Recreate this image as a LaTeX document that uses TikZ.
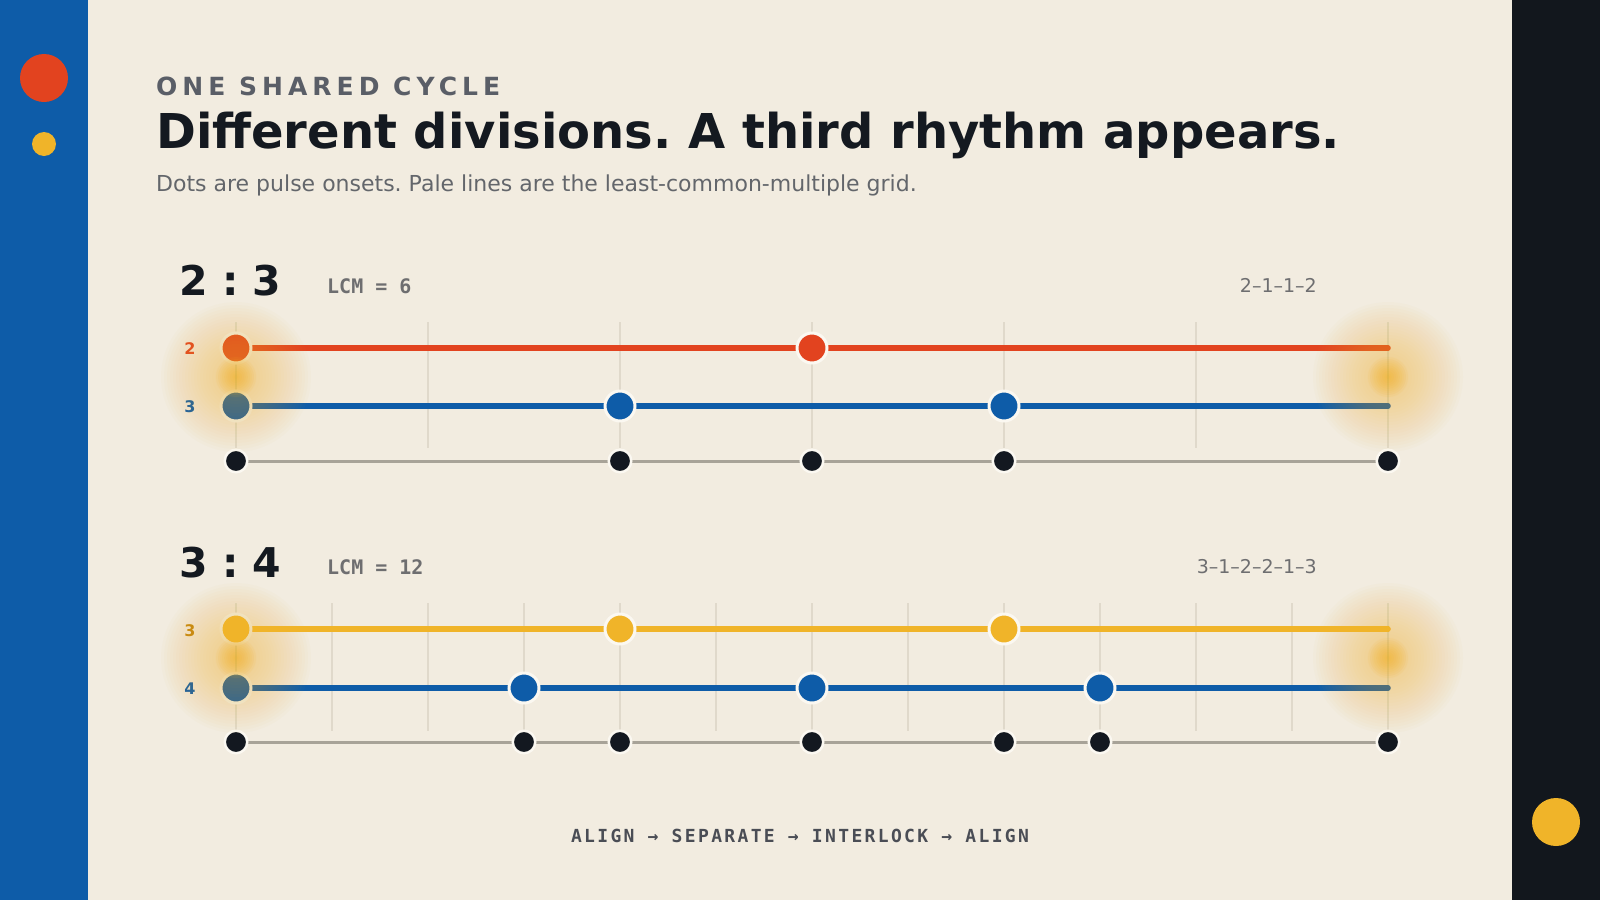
\documentclass[tikz,border=0pt]{standalone}
\usepackage{fontspec}
\setmainfont{DejaVu Sans}
\setmonofont{DejaVu Sans Mono}
\newfontfamily\kickerfont[LetterSpace=20]{DejaVu Sans}
\newfontfamily\footfont[LetterSpace=13]{DejaVu Sans Mono}
\frenchspacing

\definecolor{paper}{HTML}{F2ECE0}
\definecolor{barblue}{HTML}{0E5CA8}
\definecolor{barnight}{HTML}{12171D}
\definecolor{pulsered}{HTML}{E2431F}
\definecolor{pulseblue}{HTML}{0E5CA8}
\definecolor{pulseyellow}{HTML}{F0B429}
\definecolor{onsetblack}{HTML}{131820}
\definecolor{ringwhite}{HTML}{FBF8F1}
\definecolor{gridpale}{HTML}{E0D9CB}
\definecolor{railgray}{HTML}{A8A398}
\definecolor{inkdark}{HTML}{141920}
\definecolor{inkgray}{HTML}{5A5E67}
\definecolor{subgray}{HTML}{63666B}
\definecolor{lcmgray}{HTML}{6E6E70}
\definecolor{amber}{HTML}{C98A12}
\definecolor{footgray}{HTML}{4A4D55}

% soft yellow glow where the cycle closes
\newcommand{\glowat}[1]{%
  \foreach \r in {3,6,...,75} \fill[pulseyellow,fill opacity=0.022] (#1) circle (\r pt);
  \foreach \r in {2,4,...,20} \fill[pulseyellow,fill opacity=0.08] (#1) circle (\r pt);}

\begin{document}
\begin{tikzpicture}[x=1pt,y=-1pt]
        \tikzstyle{pulse}=[circle,draw=ringwhite,line width=3pt,minimum size=30pt,inner sep=0pt]
        \tikzstyle{onset}=[circle,fill=onsetblack,draw=ringwhite,line width=2.5pt,minimum size=22.5pt,inner sep=0pt]
        \tikzstyle{voice}=[line width=5.5pt,line cap=round]
        \tikzstyle{rail}=[railgray,line width=3pt]
        \tikzstyle{grid}=[gridpale,line width=1.5pt]
        \tikzstyle{ratio}=[anchor=base west,inner sep=0pt,text=inkdark,font=\fontsize{41}{41}\selectfont\bfseries]
        \tikzstyle{lcm}=[anchor=base west,inner sep=0pt,text=lcmgray,font=\fontsize{20}{20}\selectfont\ttfamily\bfseries]
        \tikzstyle{ioi}=[anchor=base east,inner sep=0pt,text=lcmgray,font=\fontsize{19}{19}\selectfont]
        \tikzstyle{voicelabel}=[inner sep=0pt,font=\fontsize{16}{16}\selectfont\bfseries]

        \useasboundingbox (0,0) rectangle (1600,900);
        \fill[paper] (0,0) rectangle (1600,900);
        \fill[barblue] (0,0) rectangle (88,900);
        \fill[barnight] (1512,0) rectangle (1600,900);
        \fill[pulsered] (44,78) circle (24pt);
        \fill[pulseyellow] (44,144) circle (12pt);
        \fill[pulseyellow] (1556,822) circle (24pt);

        % heading
        \node[anchor=base west,inner sep=0pt,text=inkgray,font=\fontsize{25}{25}\selectfont\kickerfont\bfseries] (kicker) at (156,95) {ONE SHARED CYCLE};
        \node[anchor=base west,inner sep=0pt,text=inkdark,font=\fontsize{48}{48}\selectfont\bfseries] (title) at (156,148) {Different divisions. A third rhythm appears.};
        \node[anchor=base west,inner sep=0pt,text=subgray,font=\fontsize{22}{22}\selectfont] (sub) at (156,191) {Dots are pulse onsets. Pale lines are the least-common-multiple grid.};

        % 2 : 3
        \begin{scope}
         \node[ratio] (ratio1) at (179,295) {2 : 3};
         \node[lcm] (lcm1) at (327,293) {LCM = 6};
         \node[ioi] (ioi1) at (1317,292) {2–1–1–2};
         \node[voicelabel,text=pulsered] (lab1a) at (190,349) {2};
         \node[voicelabel,text=pulseblue] (lab1b) at (190,407) {3};
         \foreach \k in {0,...,6}
           \draw[grid] (236+\k*192,322) -- (236+\k*192,448);
         \coordinate (a1s) at (236,348); \coordinate (a1e) at (1388,348);
         \coordinate (b1s) at (236,406); \coordinate (b1e) at (1388,406);
         \coordinate (c1s) at (236,461); \coordinate (c1e) at (1388,461);
         \draw[rail] (c1s) -- (c1e);
         \draw[voice,pulsered] (a1s) -- (a1e);
         \draw[voice,pulseblue] (b1s) -- (b1e);
         \foreach \x in {236,812}
           \node[pulse,fill=pulsered] (a1d\x) at (\x,348) {};
         \foreach \x in {236,620,1004}
           \node[pulse,fill=pulseblue] (b1d\x) at (\x,406) {};
         \foreach \x in {236,620,812,1004,1388}
           \node[onset] (c1d\x) at (\x,461) {};
         \glowat{236,377}
         \glowat{1388,377}
        \end{scope}

        % 3 : 4
        \begin{scope}
         \node[ratio] (ratio2) at (179,577) {3 : 4};
         \node[lcm] (lcm2) at (327,574) {LCM = 12};
         \node[ioi] (ioi2) at (1317,573) {3–1–2–2–1–3};
         \node[voicelabel,text=amber] (lab2a) at (190,631) {3};
         \node[voicelabel,text=pulseblue] (lab2b) at (190,689) {4};
         \foreach \k in {0,...,12}
           \draw[grid] (236+\k*96,603) -- (236+\k*96,731);
         \coordinate (a2s) at (236,629); \coordinate (a2e) at (1388,629);
         \coordinate (b2s) at (236,688); \coordinate (b2e) at (1388,688);
         \coordinate (c2s) at (236,742); \coordinate (c2e) at (1388,742);
         \draw[rail] (c2s) -- (c2e);
         \draw[voice,pulseyellow] (a2s) -- (a2e);
         \draw[voice,pulseblue] (b2s) -- (b2e);
         \foreach \x in {236,620,1004}
           \node[pulse,fill=pulseyellow] (a2d\x) at (\x,629) {};
         \foreach \x in {236,524,812,1100}
           \node[pulse,fill=pulseblue] (b2d\x) at (\x,688) {};
         \foreach \x in {236,524,620,812,1004,1100,1388}
           \node[onset] (c2d\x) at (\x,742) {};
         \glowat{236,658}
         \glowat{1388,658}
        \end{scope}

        \node[anchor=base,inner sep=0pt,text=footgray,font=\fontsize{18}{18}\selectfont\footfont\bfseries] (foot) at (800,842) {ALIGN → SEPARATE → INTERLOCK → ALIGN};
\end{tikzpicture}
\end{document}
